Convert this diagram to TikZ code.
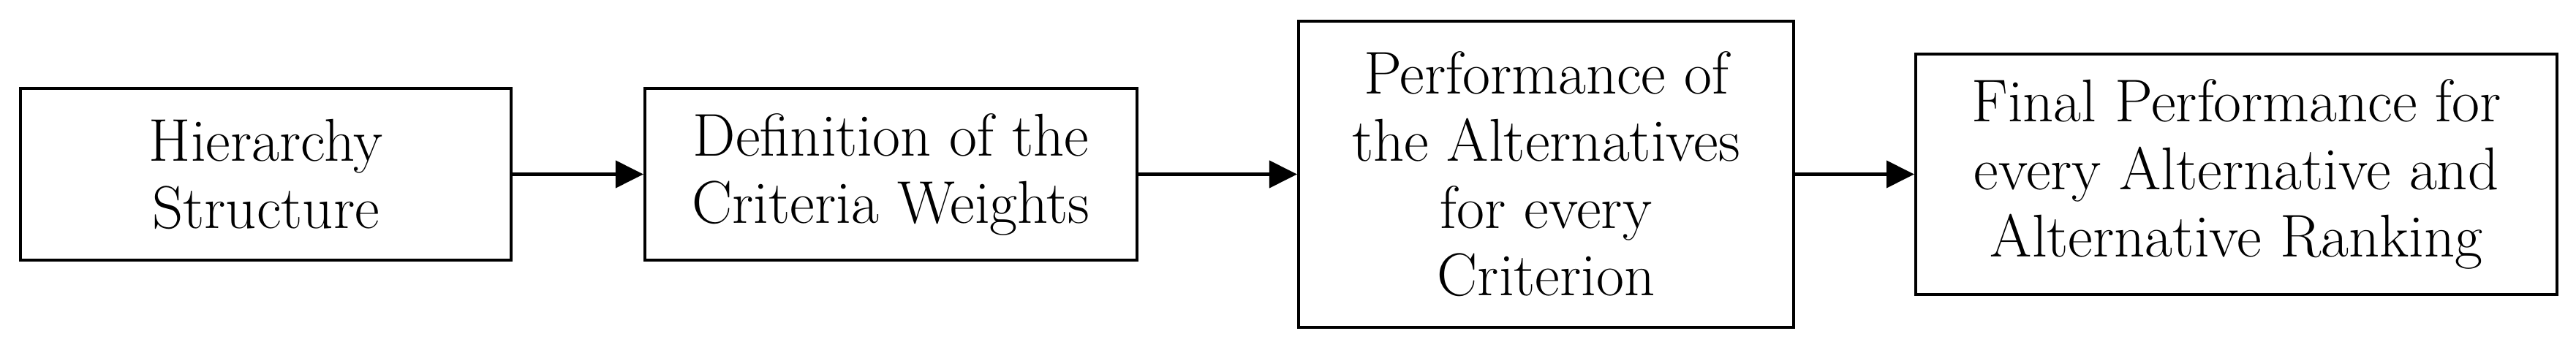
\documentclass[tikz,border=0pt]{standalone}
\usepackage{tikz}
\usetikzlibrary{arrows.meta}

\begin{document}
\begin{tikzpicture}[
  stage/.style={rectangle, draw=black, line width=1.15pt, fill=white, inner sep=0pt,
                minimum height=2.35cm, align=center,
                font=\fontsize{23.5}{26.2}\selectfont},
  flow/.style={draw=black, line width=1.15pt, -{Triangle[length=3.8mm, width=3.7mm]}},
]
\useasboundingbox (0,0) rectangle (35.23,4.79);
% ---- four stages, left to right
\node[stage, minimum width=6.71cm] (hierarchy) at (3.635, 2.405) {Hierarchy\\Structure};
\node[stage, minimum width=6.73cm] (weights) at (12.185, 2.405) {Definition of the\\Criteria Weights};
\node[stage, minimum width=6.77cm, minimum height=4.19cm] (performance) at (21.145, 2.405) {Performance of\\the Alternatives\\for every\\Criterion};
\node[stage, minimum width=8.77cm, minimum height=3.29cm] (ranking) at (30.585, 2.405) {Final Performance for\\every Alternative and\\Alternative Ranking};
% ---- connectors
\draw[flow] (hierarchy.east) -- (weights.west);
\draw[flow] (weights.east) -- (performance.west);
\draw[flow] (performance.east) -- (ranking.west);
\end{tikzpicture}
\end{document}
